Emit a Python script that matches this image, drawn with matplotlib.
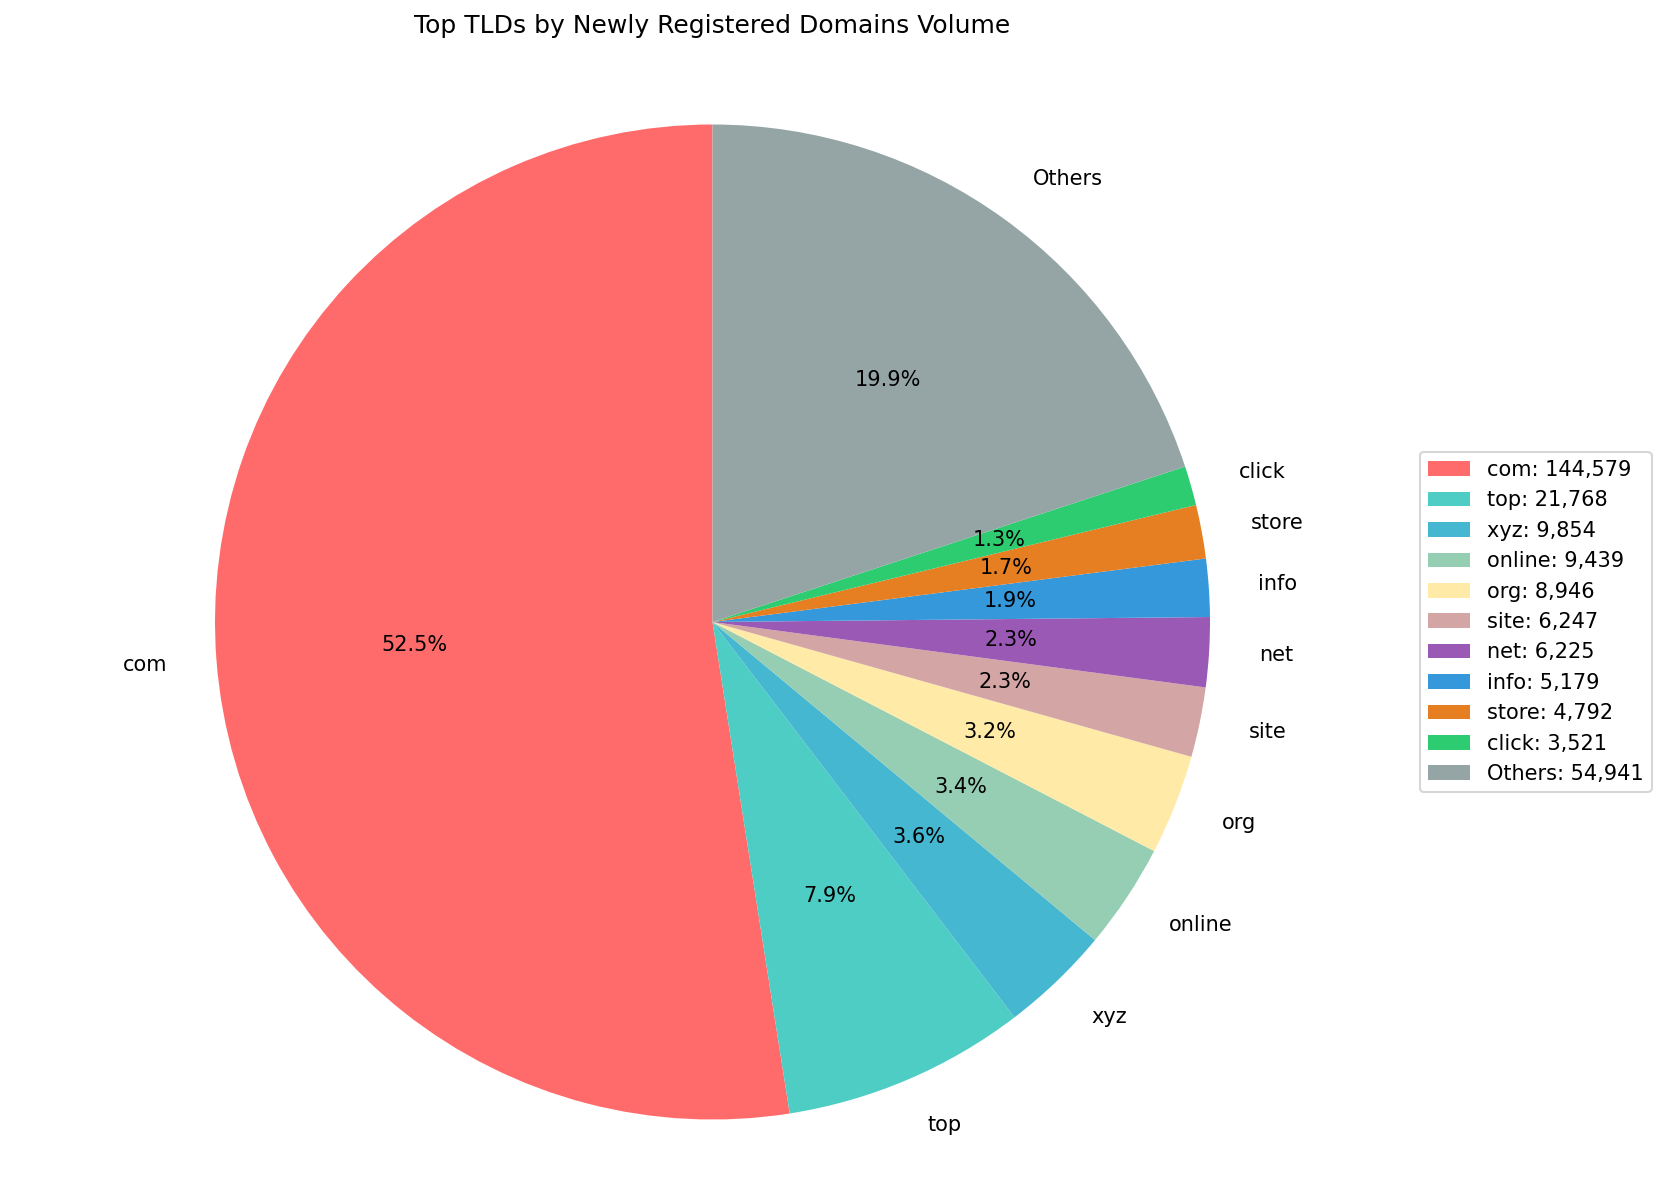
import matplotlib.pyplot as plt

tlds = ['com', 'top', 'xyz', 'online', 'org', 'site', 'net', 'info', 'store', 'click', 'Others']
counts = [144579, 21768, 9854, 9439, 8946, 6247, 6225, 5179, 4792, 3521, 54941]
colors = ['#FF6B6B', '#4ECDC4', '#45B7D1', '#96CEB4', '#FFEAA7', '#D4A5A5',
          '#9B59B6', '#3498DB', '#E67E22', '#2ECC71', '#95A5A6']

# figure in pixels, pie placed to match the original cropped output
W, H, DPI = 1667, 1185, 150
cx, cy, r = 712.5, 622, 497.5
ax_left, ax_right, ax_top, ax_bottom = 15.5, 1409.5, 45.5, 1185

fig = plt.figure(figsize=(W / DPI, H / DPI), dpi=DPI)
ax = fig.add_axes([ax_left / W, (H - ax_bottom) / H,
                   (ax_right - ax_left) / W, (ax_bottom - ax_top) / H])

wedges, texts, autotexts = ax.pie(counts, labels=tlds, colors=colors,
                                  autopct='%1.1f%%', startangle=90)
ax.set_aspect('auto')
ax.set_xlim((ax_left - cx) / r, (ax_right - cx) / r)
ax.set_ylim((cy - ax_bottom) / r, (cy - ax_top) / r)
ax.set_title('Top TLDs by Newly Registered Domains Volume', fontsize=12)

legend_labels = [f'{t}: {c:,}' for t, c in zip(tlds, counts)]
ax.legend(wedges, legend_labels, loc='center left',
          bbox_to_anchor=(ax_right / W, (H - cy) / H), bbox_transform=fig.transFigure)

fig.savefig('out.png', dpi=DPI)
